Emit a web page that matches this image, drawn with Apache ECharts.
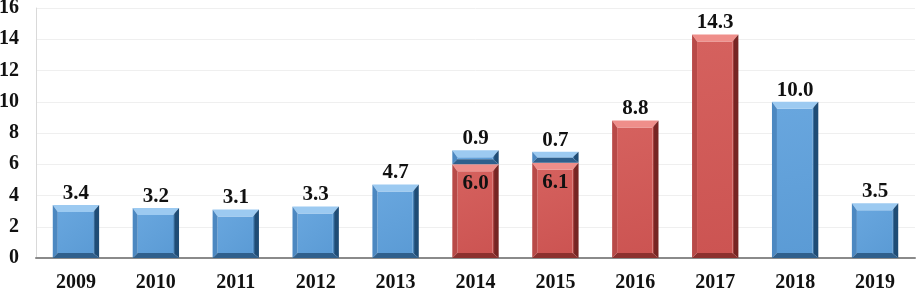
<!DOCTYPE html>
<html>
<head>
<meta charset="utf-8">
<script src="https://cdn.jsdelivr.net/npm/echarts@6/dist/echarts.min.js"></script>
<style>
  html, body { margin: 0; padding: 0; background: #fff; }
  #main { width: 916px; height: 290px; }
</style>
</head>
<body>
<div id="main"></div>
<script>
var years = ['2009', '2010', '2011', '2012', '2013', '2014', '2015', '2016', '2017', '2018', '2019'];
var blueValues = [3.4, 3.2, 3.1, 3.3, 4.7, 0.9, 0.7, null, null, 10.0, 3.5];
var redValues = [null, null, null, null, null, 6.0, 6.1, 8.8, 14.3, null, null];
var yTicks = [0, 2, 4, 6, 8, 10, 12, 14, 16];

var font = 'bold 21px "Liberation Serif", "Times New Roman", serif';

var blueLook = { face: '#5b9bd5', faceTop: '#68a6de', top: '#9ccaf1', left: '#4c88c1', right: '#1f4c75', bottom: '#2f5f8c' };
var redLook = { face: '#cc5452', faceTop: '#d5615e', top: '#ef8e8a', left: '#b84a48', right: '#762523', bottom: '#8c302e' };

// red bars sit on the axis, blue sits on top of red where both exist;
// a red bar with blue above it keeps its label inside
var redData = [];
var blueData = [];
years.forEach(function (y, i) {
  var base = redValues[i] || 0;
  if (redValues[i] != null) redData.push([i, 0, redValues[i], blueValues[i] != null ? 1 : 0, redValues[i]]);
  if (blueValues[i] != null) blueData.push([i, base, base + blueValues[i], 0, blueValues[i]]);
});

function bevel(look) {
  return function (params, api) {
    var i = api.value(0);
    var lo = api.coord([i, api.value(1)]);
    var hi = api.coord([i, api.value(2)]);
    var w = api.size([1, 0])[0] * 0.58;
    var l = lo[0] - w / 2, r = lo[0] + w / 2, top = hi[1], bot = lo[1];
    var h = bot - top;
    var bt = Math.min(7, h / 2), bs = Math.min(5, h / 2), br = 6;
    var inside = api.value(3) === 1;
    return {
      type: 'group',
      children: [
        { type: 'rect', shape: { x: l + bs, y: top + bt, width: w - bs - br, height: h - bt - bs },
          style: { fill: new echarts.graphic.LinearGradient(0, 0, 1, 1, [
            { offset: 0, color: look.faceTop }, { offset: 1, color: look.face }]) } },
        { type: 'polygon', shape: { points: [[l, top], [r, top], [r - br, top + bt], [l + bs, top + bt]] }, style: { fill: look.top } },
        { type: 'polygon', shape: { points: [[l, top], [l + bs, top + bt], [l + bs, bot - bs], [l, bot]] }, style: { fill: look.left } },
        { type: 'polygon', shape: { points: [[r, top], [r, bot], [r - br, bot - bs], [r - br, top + bt]] },
          style: { fill: new echarts.graphic.LinearGradient(0, 0, 1, 0, [
            { offset: 0, color: look.face }, { offset: 0.35, color: look.right }, { offset: 1, color: look.right }]) } },
        { type: 'polygon', shape: { points: [[l, bot], [l + bs, bot - bs], [r - br, bot - bs], [r, bot]] }, style: { fill: look.bottom } },
        { type: 'text', x: lo[0], y: inside ? top + 9 : top - 1, style: {
            text: Number(api.value(4)).toFixed(1), font: font, fill: '#111',
            align: 'center', verticalAlign: inside ? 'top' : 'bottom' } }
      ]
    };
  };
}

var myChart = echarts.init(document.getElementById('main'));
var option = {
  animation: false,
  grid: { left: 36, right: 1, top: 8, bottom: 32, outerBoundsMode: 'none' },
  xAxis: {
    type: 'category',
    data: years,
    axisTick: { show: false },
    axisLine: { lineStyle: { color: '#8a8a8a', width: 2 } },
    axisLabel: { color: '#111', fontFamily: '"Liberation Serif", serif', fontWeight: 'bold', fontSize: 20, margin: 15 }
  },
  yAxis: {
    type: 'value',
    min: 0,
    max: yTicks[yTicks.length - 1],
    interval: yTicks[1] - yTicks[0],
    axisLine: { show: true, lineStyle: { color: '#d9d9d9' } },
    splitLine: { lineStyle: { color: '#efefef' } },
    axisLabel: { color: '#111', fontFamily: '"Liberation Serif", serif', fontWeight: 'bold', fontSize: 20, margin: 17 }
  },
  series: [
    { type: 'custom', name: 'red', renderItem: bevel(redLook), data: redData, encode: { x: 0, y: 2 } },
    { type: 'custom', name: 'blue', renderItem: bevel(blueLook), data: blueData, encode: { x: 0, y: 2 } }
  ]
};
myChart.setOption(option);
</script>
</body>
</html>
